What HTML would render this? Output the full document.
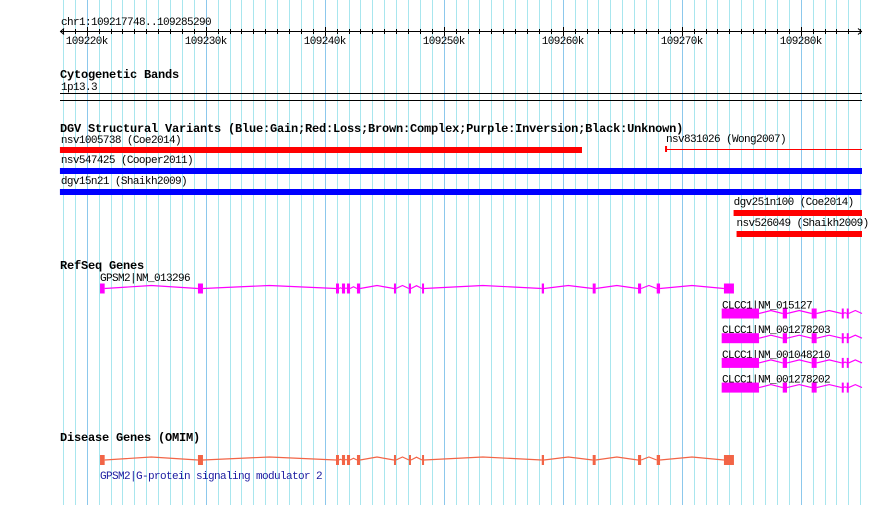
<!DOCTYPE html>
<html><head><meta charset="utf-8"><style>
html,body{margin:0;padding:0;background:#fff;}
svg{display:block;}
text{font-family:"Liberation Mono","DejaVu Sans Mono",monospace;}
.t{font-size:11px;letter-spacing:-0.6px;fill:#000;}
.h{font-size:12px;letter-spacing:-0.2px;font-weight:bold;fill:#000;}
</style></head><body>
<svg id="c" width="890" height="505" viewBox="0 0 890 505" xmlns="http://www.w3.org/2000/svg">
<g id="grid"></g>
<g id="ruler"></g>
<text class="t" x="61" y="25">chr1:109217748..109285290</text>
<text class="h" x="60" y="78">Cytogenetic Bands</text>
<text class="t" x="61" y="90">1p13.3</text>
<line x1="60" y1="93.5" x2="862" y2="93.5" stroke="#000"/>
<line x1="60" y1="100.5" x2="862" y2="100.5" stroke="#000"/>
<text class="h" x="60" y="132">DGV Structural Variants (Blue:Gain;Red:Loss;Brown:Complex;Purple:Inversion;Black:Unknown)</text>
<g id="dgv"></g>
<text class="h" x="60" y="269">RefSeq Genes</text>
<g id="genes"></g>
<text class="h" x="60" y="441">Disease Genes (OMIM)</text>
<g id="omim"></g>
</svg>
<script>
// data (kb positions)
const viewStart = 109217.748, viewEnd = 109285.290;
const gpsm2Exons = [[221.12,221.51],[229.35,229.77],[240.95,241.20],[241.45,241.71],[241.87,242.13],[242.71,242.97],[245.82,245.99],[247.08,247.25],[248.18,248.34],[258.24,258.43],[262.52,262.77],[266.33,266.59],[267.90,268.18],[273.55,274.39]];
const clccExons = [[273.36,276.50],[278.49,278.85],[280.92,281.34],[283.45,283.58],[283.87,284.03]];
const clccEnd = 285.15;
const clccNames = ["CLCC1|NM_015127","CLCC1|NM_001278203","CLCC1|NM_001048210","CLCC1|NM_001278202"];
const dgvNames = ["nsv1005738 (Coe2014)","nsv831026 (Wong2007)","nsv547425 (Cooper2011)","dgv15n21 (Shaikh2009)","dgv251n100 (Coe2014)","nsv526049 (Shaikh2009)"];
const dgvStart = [217.75,268.60,217.75,217.75,274.36,274.61];
const dgvEnd = [261.62,285.15,285.15,285.10,285.15,285.15];
const dgvColor = ["#ff0000","#ff0000","#0000ff","#0000ff","#ff0000","#ff0000"];
const dgvThin = [false,true,false,false,false,false];
const dgvRowY = [147,146,168,189,210,231];
const dgvLabelDy = [-3,-3,-4,-4,-4,-4];
const tickLabels = ["109220k","109230k","109240k","109250k","109260k","109270k","109280k"];

const NS="http://www.w3.org/2000/svg";
function X(kb){return 86.7+(kb-109220)*11.9;}
function XR(kb){return X(109000+kb);}
function mk(tag,attrs,parent){const e=document.createElementNS(NS,tag);for(const k in attrs)e.setAttribute(k,attrs[k]);parent.appendChild(e);return e;}
const grid=document.getElementById('grid');
for(let k=Math.ceil(viewStart);k<=viewEnd;k++){
  const x=Math.round(X(k))+0.5; const major=k%10===0;
  const l=mk('line',{x1:x,y1:0,x2:x,y2:505,stroke:major?'#8cc8ec':'#a8e6ee','stroke-width':1,'shape-rendering':'crispEdges'},grid);
  
  
}
const ruler=document.getElementById('ruler');
const rl=mk('line',{x1:60,y1:31.5,x2:862,y2:31.5,stroke:'#000'},ruler);


mk('path',{d:'M64 28.5 L60.5 31.5 L64 34.5',stroke:'#000',fill:'none'},ruler);
mk('path',{d:'M858 28.5 L861.5 31.5 L858 34.5',stroke:'#000',fill:'none'},ruler);
for(let k=Math.ceil(viewStart);k<=viewEnd;k++){
  const x=Math.round(X(k))+0.5; const major=k%10===0;
  const t=mk('line',{x1:x,y1:major?27:29,x2:x,y2:major?36:34,stroke:'#000','shape-rendering':'crispEdges'},ruler);
  
  
}
tickLabels.forEach(s=>{
  const kb=parseInt(s);
  const t=mk('text',{x:X(kb),y:44,'text-anchor':'middle',class:'t'},ruler);
  t.textContent=s;
  
  
});
const dgv=document.getElementById('dgv');
dgvNames.forEach((n,i)=>{
  const x1=XR(dgvStart[i]), x2=XR(dgvEnd[i]), y=dgvRowY[i];
  const t=mk('text',{x:x1+(i>=4?0:1),y:y+dgvLabelDy[i]-1,class:'t'},dgv);
  t.textContent=n;
  
  
  if(dgvThin[i]){
    const a=mk('rect',{x:x1,y:y,width:2,height:6,fill:dgvColor[i]},dgv);
    
    
    mk('line',{x1:x1,y1:y+3.5,x2:x2,y2:y+3.5,stroke:dgvColor[i]},dgv);
  } else {
    const r=mk('rect',{x:x1,y:y,width:x2-x1,height:6,fill:dgvColor[i]},dgv);
    
    
  }
});
function drawGene(parent,exons,end,y,color,name){
  const g=mk('g',{},parent);
  
  
  for(let i=0;i<exons.length;i++){
    const nextStart=i+1<exons.length?exons[i+1][0]:end;
    if(nextStart<=exons[i][1])continue;
    const a=XR(exons[i][1]), b=XR(nextStart);
    const w=b-a; const h=Math.min(3,w/4);
    mk('polyline',{points:`${a},${y} ${(a+b)/2},${y-h} ${b},${y}`,stroke:color,fill:'none','stroke-width':1.2},g);
  }
  exons.forEach(e=>{
    const x1=XR(e[0]),x2=XR(e[1]);
    const r=mk('rect',{x:x1,y:y-5,width:Math.max(2,x2-x1),height:10,fill:color},g);
    
    
  });
  return g;
}
const genes=document.getElementById('genes');
const gl=mk('text',{x:100,y:281,class:'t'},genes);
gl.textContent='GPSM2|NM_013296';


drawGene(genes,gpsm2Exons,gpsm2Exons[gpsm2Exons.length-1][1],288.5,'#ff00ff','gpsm2-transcript');
clccNames.forEach((n,i)=>{
  const y=313.5+i*24.7;
  const t=mk('text',{x:722,y:y-5,class:'t'},genes);
  t.textContent=n;
  
  
  drawGene(genes,clccExons,clccEnd,y,'#ff00ff','clcc1-transcript');
});
const omim=document.getElementById('omim');
drawGene(omim,gpsm2Exons,gpsm2Exons[gpsm2Exons.length-1][1],460,'#f26446','gpsm2-omim-gene');
const ol=mk('text',{x:100,y:479,class:'t',style:'fill:#1a1aa0'},omim);
ol.textContent='GPSM2|G-protein signaling modulator 2';


</script>
</body></html>
